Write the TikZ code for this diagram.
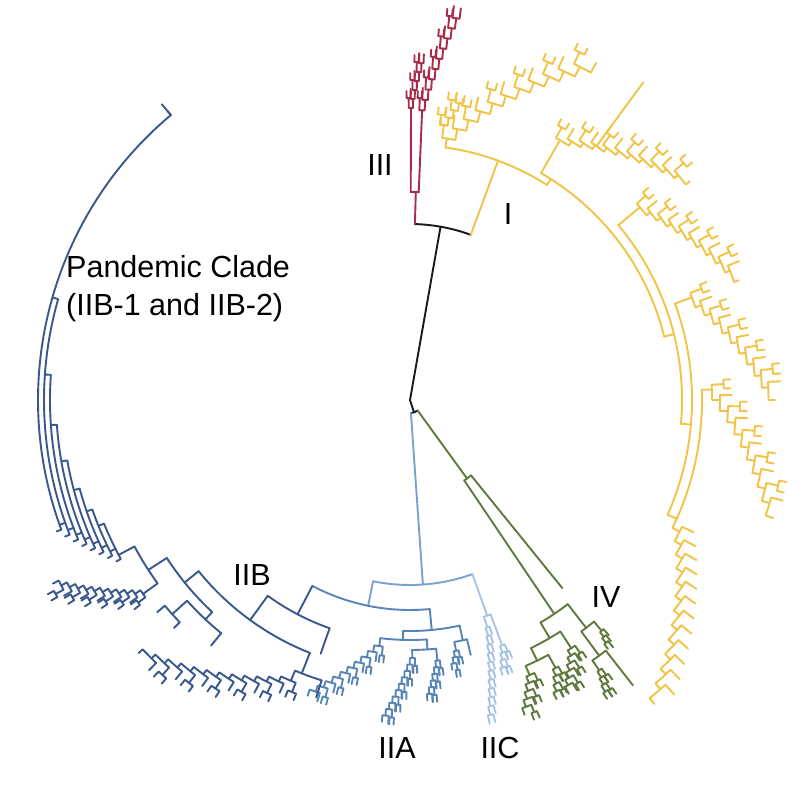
\documentclass[tikz,border=0pt]{standalone}
\usepackage{fontspec}
\setmainfont{Liberation Sans}
\usepackage{tikz}
\definecolor{cladeblack}{RGB}{25,25,25}
\definecolor{cladered}{RGB}{166,44,74}
\definecolor{cladeyellow}{RGB}{241,196,72}
\definecolor{cladegreen}{RGB}{96,122,62}
\definecolor{cladeiic}{RGB}{168,196,228}
\definecolor{cladeiia}{RGB}{88,132,182}
\definecolor{cladestem}{RGB}{122,162,206}
\definecolor{cladeiib}{RGB}{58,88,140}
\tikzset{
  branch/.style={
    line width=1.9pt,
    line cap=round,
    line join=round
  },
  cladelabel/.style={
    font=\fontsize{30.5}{34}\selectfont,
    inner sep=0pt,
    anchor=base
  }
}
% radial segment: angle, inner radius, outer radius
\newcommand\cradial[3]{\draw (#1:#2) -- (#1:#3);}
% arc: start angle, end angle, radius
\newcommand\carc[3]{\draw (#1:#3) arc[start angle=#1,end angle=#2,radius=#3];}
% ladder: attach angle, step, leaf offset, r0, n, dr, leaf length
\newcommand\cladder[7]{%
  \foreach \k in {1,...,#5}{%
    \pgfmathsetmacro\cta{#1+(\k-1)*(#2)}%
    \pgfmathsetmacro\ctc{\cta+(#2)}%
    \pgfmathsetmacro\ctl{\cta+(#3)}%
    \pgfmathsetmacro\crr{#4+(\k-1)*(#6)}%
    \pgfmathsetmacro\crn{\crr+(#6)}%
    \pgfmathsetmacro\crt{\crr+(#7)}%
    \draw (\ctl:\crt) -- (\ctl:\crr) arc[start angle=\ctl,end angle=\ctc,radius=\crr] -- (\ctc:\crn);
  }}
% boxy ladder: same, every second leaf ends in a small cherry of half width #8
\newcommand\cboxes[8]{%
  \foreach \k in {1,...,#5}{%
    \pgfmathsetmacro\cta{#1+(\k-1)*(#2)}%
    \pgfmathsetmacro\ctc{\cta+(#2)}%
    \pgfmathsetmacro\ctl{\cta+(#3)}%
    \pgfmathsetmacro\crr{#4+(\k-1)*(#6)}%
    \pgfmathsetmacro\crn{\crr+(#6)}%
    \pgfmathsetmacro\crt{\crr+(#7)}%
    \draw (\ctl:\crt) -- (\ctl:\crr) arc[start angle=\ctl,end angle=\ctc,radius=\crr] -- (\ctc:\crn);
    \ifodd\k
      \pgfmathsetmacro\cwa{\ctl-(#8)}%
      \pgfmathsetmacro\cwb{\ctl+(#8)}%
      \pgfmathsetmacro\crs{\crt+7}%
      \draw (\cwa:\crs) -- (\cwa:\crt) arc[start angle=\cwa,end angle=\cwb,radius=\crt] -- (\cwb:\crs);
    \fi
  }}

\begin{document}
\begin{tikzpicture}[x=1pt,y=1pt]
  \fill[white] (0,0) rectangle (807,-793);
  \useasboundingbox (0,0) rectangle (807,-793);

  \begin{scope}[shift={(410,-400)},branch]
    % root
    \begin{scope}[cladeblack]
      \cradial{80}{0}{176}
      \carc{88.4}{69.8}{176}
      \cradial{-72}{0}{13}
      \carc{-86}{-54}{13}
    \end{scope}

    % clade III
    \begin{scope}[cladered]
      \cradial{88.4}{176}{208}
      \carc{89.8}{87.6}{208}
      \cradial{89.8}{208}{292}
      \cradial{87.6}{208}{290}
      \cboxes{89.8}{-0.35}{0.45}{292}{6}{9}{10}{0.4}
      \cboxes{87.6}{-0.5}{0.55}{290}{10}{10.5}{12}{0.4}
    \end{scope}

    % clade I
    \begin{scope}[cladeyellow]
      \cradial{69.8}{176}{255}
      \carc{82}{57.5}{255}
      \cradial{82}{255}{264}
      \cboxes{82}{-1.9}{1.0}{264}{11}{11}{13}{0.8}
      \cboxes{83}{-0.8}{0.7}{277}{4}{8}{10}{0.7}
      \cradial{57.5}{255}{262}
      \carc{60}{14}{262}
      \cradial{60}{262}{300}
      \cboxes{60}{-2.0}{0.9}{300}{11}{5}{12}{0.8}
      \cradial{53.7}{315}{394}
      \cradial{14}{262}{272}
      \carc{40}{-5}{272}
      \cradial{40}{272}{300}
      \cboxes{40}{-2.0}{0.9}{300}{10}{5}{12}{0.8}
      \cradial{-5}{272}{282}
      \carc{20}{-24}{282}
      \cradial{20}{282}{300}
      \cboxes{20}{-2.0}{0.9}{300}{10}{6.5}{12}{0.8}
      \cradial{-24}{282}{292}
      \carc{2}{-26}{292}
      \cradial{2}{292}{302}
      \cboxes{2}{-2.0}{0.9}{302}{10}{8}{12}{0.8}
      \cradial{-26}{292}{300}
      \cladder{-26}{-2.1}{1.0}{300}{12}{7.5}{13}
    \end{scope}

    % clade IV
    \begin{scope}[cladegreen]
      \cradial{-54}{13}{97}
      \carc{-51}{-56}{97}
      \cradial{-51}{97}{242}
      \cradial{-56}{97}{258}
      \carc{-59.6}{-52.3}{258}
      \cradial{-52.3}{258}{288}
      \carc{-50.3}{-53.5}{288}
      \cradial{-50.3}{288}{300}
      \cladder{-50.3}{-0.4}{0.5}{300}{3}{6}{8}
      \cradial{-53.5}{288}{318}
      \carc{-52}{-55}{318}
      \cradial{-52}{318}{362}
      \cradial{-55}{318}{330}
      \cboxes{-55}{-0.4}{0.5}{330}{4}{7}{8}{0.4}
      \cradial{-59.6}{258}{276}
      \carc{-57}{-64}{276}
      \cradial{-57}{276}{296}
      \cboxes{-57}{-0.8}{0.9}{296}{6}{6}{9}{0.5}
      \cradial{-64}{276}{290}
      \carc{-61.5}{-66.5}{290}
      \cradial{-61.5}{290}{305}
      \cboxes{-61.5}{-0.6}{0.6}{305}{4}{7}{8}{0.5}
      \cradial{-66.5}{290}{300}
      \cboxes{-66.5}{-0.7}{1.0}{300}{5}{7}{8}{0.5}
    \end{scope}

    % stem of clade II
    \begin{scope}[cladestem]
      \cradial{-86}{13}{185}
      \carc{-101.5}{-70.3}{185}
      \cradial{-101.5}{185}{210}
    \end{scope}

    % clade IIC
    \begin{scope}[cladeiic]
      \cradial{-70.3}{185}{229}
      \carc{-69.4}{-71.2}{229}
      \cradial{-69.4}{229}{262}
      \cboxes{-69.4}{-0.5}{0.6}{262}{4}{7}{8}{0.4}
      \cradial{-71.2}{229}{240}
      \cladder{-71.2}{-0.45}{0.55}{240}{11}{8.5}{8}
    \end{scope}

    % clade IIA
    \begin{scope}[cladeiia]
      \carc{-117.7}{-84.6}{210}
      \cradial{-84.6}{210}{231}
      \carc{-91.7}{-77.6}{231}
      \cradial{-77.6}{231}{246}
      \carc{-76.6}{-79.6}{246}
      \cradial{-76.6}{246}{262}
      \cradial{-79.6}{246}{255}
      \cboxes{-79.6}{-0.5}{0.6}{255}{3}{6}{7}{0.4}
      \cradial{-91.7}{231}{240}
      \carc{-97.1}{-86}{240}
      \cradial{-97.1}{240}{248}
      \cboxes{-97.1}{-1.2}{0.8}{248}{10}{6.5}{9}{0.5}
      \cradial{-86}{240}{250}
      \carc{-89.5}{-84}{250}
      \cradial{-89.5}{250}{258}
      \cboxes{-89.5}{-0.55}{0.6}{258}{10}{6.5}{8}{0.4}
      \cradial{-84}{250}{262}
      \cboxes{-84}{-0.45}{0.55}{262}{6}{6.5}{8}{0.4}
    \end{scope}

    % clade IIB and pandemic clade
    \begin{scope}[cladeiib]
      \cradial{-117.7}{210}{242}
      \carc{-126}{-109.4}{242}
      \cradial{-109.4}{242}{269}
      \cradial{-126}{242}{272}
      \carc{-141}{-111.6}{272}
      \cradial{-111.6}{272}{294}
      \carc{-113}{-107.5}{294}
      \cradial{-107.5}{294}{312}
      \cradial{-113}{294}{305}
      \cboxes{-113}{-2.0}{1.0}{305}{12}{5.5}{10}{0.8}
      \cradial{-141}{272}{290}
      \carc{-147}{-133}{290}
      \cradial{-133}{290}{300}
      \carc{-138}{-129}{300}
      \cradial{-129}{300}{316}
      \cradial{-138}{300}{320}
      \carc{-140}{-136}{320}
      \cradial{-140}{320}{330}
      \cradial{-136}{320}{328}
      \cradial{-147}{290}{312}
      \carc{-152}{-144}{312}
      \cradial{-144}{312}{330}
      \cboxes{-144}{-0.8}{0.7}{330}{11}{6.5}{9}{0.5}
      \cradial{-152}{312}{330}
      \foreach \i/\far in {1/-158,2/-161,3/-165,4/-170,5/-176,6/-184,7/-196,8/-230}{
        \pgfmathsetmacro\pr{330+6*(\i-1)}
        \pgfmathsetmacro\pn{-152-1.2*(\i-1)}
        \pgfmathsetmacro\pa{\pn+0.8}
        \pgfmathsetmacro\pt{\pr+5}
        \draw (\pa:\pt) -- (\pa:\pr) arc[start angle=\pa,end angle=\far,radius=\pr] -- (\far:\pt);
        \ifnum\i>1
          \pgfmathsetmacro\pq{\pr-6}
          \draw (\pn:\pq) -- (\pn:\pr);
        \fi
      }
      \cradial{-230}{372}{386}
    \end{scope}
  \end{scope}

  % labels
  \node[cladelabel] (labIII) at (380,-175) {III};
  \node[cladelabel] (labI) at (508,-224) {I};
  \node[cladelabel,anchor=base west] (labPanA) at (66,-277) {Pandemic Clade};
  \node[cladelabel,anchor=base west] (labPanB) at (66,-315) {(IIB-1 and IIB-2)};
  \node[cladelabel] (labIIB) at (252,-585) {IIB};
  \node[cladelabel] (labIV) at (606,-607) {IV};
  \node[cladelabel] (labIIA) at (397,-758) {IIA};
  \node[cladelabel] (labIIC) at (500,-758) {IIC};
\end{tikzpicture}
\end{document}
